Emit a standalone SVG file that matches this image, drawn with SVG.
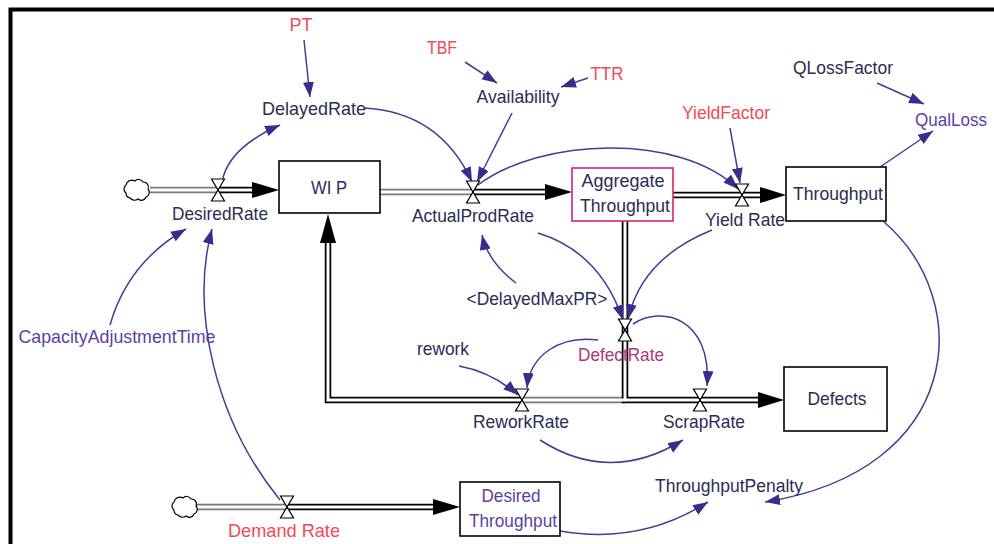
<svg xmlns="http://www.w3.org/2000/svg" width="994" height="544" viewBox="0 0 994 544">
  <defs>
    <style>
      text { font-family: "Liberation Sans", Arial, sans-serif; font-size: 19px; text-anchor: middle; }
      .red { fill: #f04a56; }
      .navy { fill: #2c2c54; }
      .purple { fill: #5a3fa6; }
      .magenta { fill: #a83a78; }
      .box { fill: #ffffff; stroke: #000000; stroke-width: 1.6; }
      .agg { fill: #ffffff; stroke: #d6217a; stroke-width: 1.6; }
      .pipe-out { fill: none; stroke: #000000; stroke-width: 6.5; stroke-linejoin: miter; }
      .pipe-grey { fill: none; stroke: #7a7a7a; stroke-width: 6.5; stroke-linejoin: miter; }
      .pipe-in { fill: none; stroke: #ffffff; stroke-width: 3; stroke-linejoin: miter; }
      .flowhead { fill: #000000; }
      .link { fill: none; stroke: #4a3a96; stroke-width: 1.5; marker-end: url(#arrow); }
      .valve { fill: #ffffff; stroke: #000000; stroke-width: 1.2; stroke-linejoin: miter; }
      .cloud { fill: #ffffff; stroke: #000000; stroke-width: 1.2; }
    </style>
    <marker id="arrow" markerUnits="userSpaceOnUse" markerWidth="16" markerHeight="12" refX="15" refY="5.5" orient="auto">
      <path d="M0,0 L15,5.5 L0,11 Z" fill="#3d2a8c"/>
    </marker>
    <g id="valve-shape">
      <path class="valve" d="M-6.5,-11 L6.5,-11 L0,0 Z"/>
      <path class="valve" d="M-6.5,11 L6.5,11 L0,0 Z"/>
    </g>
    <path id="cloud-shape" class="cloud" d="M-11,3 a5,5 0 0,1 0,-8 a6,6 0 0,1 9,-4 a5,5 0 0,1 8,1 a5,5 0 0,1 5,7 a5,5 0 0,1 -2,8 a5,5 0 0,1 -8,2 a6,6 0 0,1 -8,-1 a5,5 0 0,1 -4,-5 z"/>
  </defs>

  <rect width="994" height="544" fill="#ffffff"/>

  <!-- frame -->
  <path d="M10.5,544 L10.5,9.5 L994,9.5" fill="none" stroke="#000000" stroke-width="4"/>

  <g id="connectors">
    <!-- material flows (pipes) -->
    <g id="flows">
      <path class="pipe-grey" d="M150,190 L218,190"/>
      <path class="pipe-out" d="M218,190 L252,190"/>
      <path class="pipe-in" d="M150,190 L252,190"/>
      <polygon class="flowhead" points="252,182 279,190 252,198"/>

      <path class="pipe-grey" d="M380,192 L473,192"/>
      <path class="pipe-out" d="M473,192 L545,192"/>
      <path class="pipe-in" d="M380,192 L545,192"/>
      <polygon class="flowhead" points="545,184 572,192 545,200"/>

      <path class="pipe-out" d="M673,195 L760,195"/>
      <path class="pipe-in" d="M673,195 L760,195"/>
      <polygon class="flowhead" points="760,187 786,195 760,203"/>

      <path class="pipe-out" d="M522,400 L328,400 L328,243"/>
      <path class="pipe-grey" d="M625,400 L522,400"/>
      <path class="pipe-out" d="M625,221 L625,400 L758,400"/>
      <path class="pipe-in" d="M625,221 L625,400 L758,400"/>
      <path class="pipe-in" d="M625,400 L328,400 L328,243"/>
      <polygon class="flowhead" points="758,392 784,400 758,408"/>
      <polygon class="flowhead" points="320,243 328,214 336,243"/>

      <path class="pipe-grey" d="M197,507 L287,507"/>
      <path class="pipe-out" d="M287,507 L433,507"/>
      <path class="pipe-in" d="M197,507 L433,507"/>
      <polygon class="flowhead" points="433,499 460,507 433,515"/>
    </g>

    <!-- information links -->
    <g id="links">
      <path class="link" d="M304,40 L310,97"/>
      <path class="link" d="M222,182 Q228,148 280,125"/>
      <path class="link" d="M364,108 Q440,112 472,182"/>
      <path class="link" d="M512,113 L477,182"/>
      <path class="link" d="M465,62 L497,83"/>
      <path class="link" d="M588,78 L561,87"/>
      <path class="link" d="M478,185 C540,138 680,132 738,189"/>
      <path class="link" d="M730,128 L740,183"/>
      <path class="link" d="M877,83 L924,104"/>
      <path class="link" d="M880,167 L933,131"/>
      <path class="link" d="M884,222 C975,300 965,470 765,502"/>
      <path class="link" d="M538,233 Q600,252 623,320"/>
      <path class="link" d="M712,230 Q642,258 628,319"/>
      <path class="link" d="M516,283 Q488,262 482,235"/>
      <path class="link" d="M633,324 C662,305 712,318 707,386"/>
      <path class="link" d="M598,340 C560,335 530,355 527,388"/>
      <path class="link" d="M459,366 Q492,372 518,395"/>
      <path class="link" d="M540,440 Q610,485 683,440"/>
      <path class="link" d="M560,531 Q640,545 708,502"/>
      <path class="link" d="M110,325 Q128,262 186,229"/>
      <path class="link" d="M280,500 C215,420 190,310 212,229"/>
    </g>
  </g>

  <!-- stocks -->
  <g id="wip">
    <rect class="box" x="279" y="161" width="101" height="52"/>
    <text class="navy" x="329" y="194" textLength="36" lengthAdjust="spacingAndGlyphs">WI P</text>
  </g>
  <g id="aggregate-throughput">
    <rect class="agg" x="572" y="168" width="101" height="53"/>
    <text class="navy" x="623" y="187" textLength="83" lengthAdjust="spacingAndGlyphs">Aggregate</text>
    <text class="navy" x="625" y="212" textLength="90" lengthAdjust="spacingAndGlyphs">Throughput</text>
  </g>
  <g id="throughput">
    <rect class="box" x="786" y="167" width="100" height="54"/>
    <text class="navy" x="838" y="200" textLength="90" lengthAdjust="spacingAndGlyphs">Throughput</text>
  </g>
  <g id="defects">
    <rect class="box" x="784" y="367" width="103" height="64"/>
    <text class="navy" x="837" y="405" textLength="59" lengthAdjust="spacingAndGlyphs">Defects</text>
  </g>
  <g id="desired-throughput">
    <rect class="box" x="460" y="482" width="100" height="54"/>
    <text class="purple" x="511" y="502" textLength="59" lengthAdjust="spacingAndGlyphs">Desired</text>
    <text class="purple" x="513" y="527" textLength="88" lengthAdjust="spacingAndGlyphs">Throughput</text>
  </g>

  <!-- sources -->
  <g id="source-desired">
    <use href="#cloud-shape" transform="translate(137,190)"/>
  </g>
  <g id="source-demand">
    <use href="#cloud-shape" transform="translate(185,507)"/>
  </g>

  <!-- rates -->
  <g id="desired-rate">
    <use href="#valve-shape" transform="translate(218,190)"/>
    <text class="navy" x="220" y="220" textLength="96" lengthAdjust="spacingAndGlyphs">DesiredRate</text>
  </g>
  <g id="actual-prod-rate">
    <use href="#valve-shape" transform="translate(473,192)"/>
    <text class="navy" x="473" y="222" textLength="122" lengthAdjust="spacingAndGlyphs">ActualProdRate</text>
  </g>
  <g id="yield-rate">
    <use href="#valve-shape" transform="translate(742,195)"/>
    <text class="navy" x="745" y="226" textLength="80" lengthAdjust="spacingAndGlyphs">Yield Rate</text>
  </g>
  <g id="defect-rate">
    <use href="#valve-shape" transform="translate(625,330)"/>
    <text class="magenta" x="621" y="361" textLength="86" lengthAdjust="spacingAndGlyphs">DefectRate</text>
  </g>
  <g id="rework-rate">
    <use href="#valve-shape" transform="translate(522,400)"/>
    <text class="navy" x="521" y="428" textLength="96" lengthAdjust="spacingAndGlyphs">ReworkRate</text>
  </g>
  <g id="scrap-rate">
    <use href="#valve-shape" transform="translate(700,400)"/>
    <text class="navy" x="704" y="428" textLength="82" lengthAdjust="spacingAndGlyphs">ScrapRate</text>
  </g>
  <g id="demand-rate">
    <use href="#valve-shape" transform="translate(287,507)"/>
    <text class="red" x="284" y="537" textLength="112" lengthAdjust="spacingAndGlyphs">Demand Rate</text>
  </g>

  <!-- auxiliaries and constants -->
  <g id="pt"><text class="red" x="301" y="31" textLength="23" lengthAdjust="spacingAndGlyphs">PT</text></g>
  <g id="delayed-rate"><text class="navy" x="314" y="115" textLength="104" lengthAdjust="spacingAndGlyphs">DelayedRate</text></g>
  <g id="tbf"><text class="red" x="442" y="54" textLength="30" lengthAdjust="spacingAndGlyphs">TBF</text></g>
  <g id="ttr"><text class="red" x="607" y="80" textLength="33" lengthAdjust="spacingAndGlyphs">TTR</text></g>
  <g id="availability"><text class="navy" x="518" y="103" textLength="83" lengthAdjust="spacingAndGlyphs">Availability</text></g>
  <g id="yield-factor"><text class="red" x="726" y="119" textLength="88" lengthAdjust="spacingAndGlyphs">YieldFactor</text></g>
  <g id="qloss-factor"><text class="navy" x="843" y="74" textLength="100" lengthAdjust="spacingAndGlyphs">QLossFactor</text></g>
  <g id="qual-loss"><text class="purple" x="951" y="126" textLength="72" lengthAdjust="spacingAndGlyphs">QualLoss</text></g>
  <g id="capacity-adjustment-time"><text class="purple" x="117" y="343" textLength="197" lengthAdjust="spacingAndGlyphs">CapacityAdjustmentTime</text></g>
  <g id="delayed-max-pr"><text class="navy" x="537" y="305" textLength="141" lengthAdjust="spacingAndGlyphs">&lt;DelayedMaxPR&gt;</text></g>
  <g id="rework"><text class="navy" x="443" y="355" textLength="52" lengthAdjust="spacingAndGlyphs">rework</text></g>
  <g id="throughput-penalty"><text class="navy" x="729" y="492" textLength="148" lengthAdjust="spacingAndGlyphs">ThroughputPenalty</text></g>
</svg>
